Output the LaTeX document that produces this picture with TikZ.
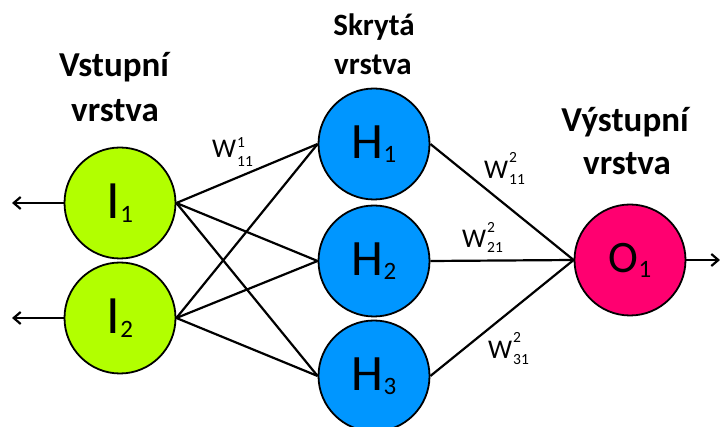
\documentclass[tikz,border=0pt]{standalone}
\usepackage{fontspec}
\setmainfont{Carlito}
\usetikzlibrary{arrows.meta}

\definecolor{inputgreen}{RGB}{178,255,0}
\definecolor{hiddenblue}{RGB}{0,150,255}
\definecolor{outputpink}{RGB}{255,0,112}

% neuron caption: size, letter, subscript index, lowering of the index
\newcommand{\neurontext}[4]{{\fontsize{#1}{#1}\selectfont #2}\raisebox{-#4}{\fontsize{25}{25}\selectfont #3}}
% weight caption: superscript, subscript, raise, lower
\newcommand{\weighttext}[4]{W\kern1pt\rlap{\raisebox{#3}{\fontsize{15.5}{15.5}\selectfont #1}}\raisebox{-#4}{\fontsize{15.5}{15.5}\selectfont #2}}

\begin{document}
\begin{tikzpicture}[x=1pt,y=-1pt,
  neuron/.style={circle, draw=black, line width=1.8pt, minimum size=111pt, inner sep=0pt},
  link/.style={line width=2.2pt, black},
  outarrow/.style={line width=2.2pt, black, -{Straight Barb[length=7pt,width=12pt]}},
  layertitle/.style={anchor=base, inner sep=0pt, font=\fontsize{35}{35}\selectfont\bfseries},
  midtitle/.style={layertitle, font=\fontsize{31}{31}\selectfont\bfseries},
  weight/.style={anchor=base west, inner sep=0pt, font=\fontsize{27}{27}\selectfont}]
\useasboundingbox (0,0) rectangle (720,427);

% layer titles
\node[layertitle] (tin1) at (114,77) {Vstupní};
\node[layertitle] (tin2) at (115,122) {vrstva};
\node[midtitle] (thid1) at (374,36) {Skrytá};
\node[midtitle] (thid2) at (373,75) {vrstva};
\node[layertitle] (tout1) at (625,132) {Výstupní};
\node[layertitle] (tout2) at (627,175) {vrstva};

% neurons
\node[neuron, fill=inputgreen] (I1) at (120,203) {\neurontext{54}{I}{1}{4pt}};
\node[neuron, fill=inputgreen] (I2) at (120,318) {\neurontext{54}{I}{2}{4pt}};
\node[neuron, fill=hiddenblue] (H1) at (374,144) {\neurontext{51}{H}{1}{4pt}};
\node[neuron, fill=hiddenblue] (H2) at (374,261) {\neurontext{51}{H}{2}{4pt}};
\node[neuron, fill=hiddenblue] (H3) at (374,376) {\neurontext{51}{H}{3}{4pt}};
\node[neuron, fill=outputpink] (O1) at (630,260) {\neurontext{45}{O}{1}{5pt}};

% free ends of the in/out arrows
\coordinate (in1) at (12,203);
\coordinate (in2) at (12,318);
\coordinate (out1) at (720,260);

% connections
\foreach \i in {I1,I2}
  \foreach \h in {H1,H2,H3}
    \draw[link] (\i.east) -- (\h.west);
\foreach \h in {H1,H2,H3}
  \draw[link] (\h.east) -- (O1.west);

\draw[outarrow] (I1.west) -- (in1);
\draw[outarrow] (I2.west) -- (in2);
\draw[outarrow] (O1.east) -- (out1);

% weights
\node[weight] (w111) at (212,158) {\weighttext{1}{11}{10pt}{9pt}};
\node[weight] (w211) at (484,179) {\weighttext{2}{11}{16pt}{6pt}};
\node[weight] (w221) at (462,248) {\weighttext{2}{21}{15pt}{5pt}};
\node[weight] (w231) at (488,359) {\weighttext{2}{31}{16pt}{6pt}};
\end{tikzpicture}
\end{document}
